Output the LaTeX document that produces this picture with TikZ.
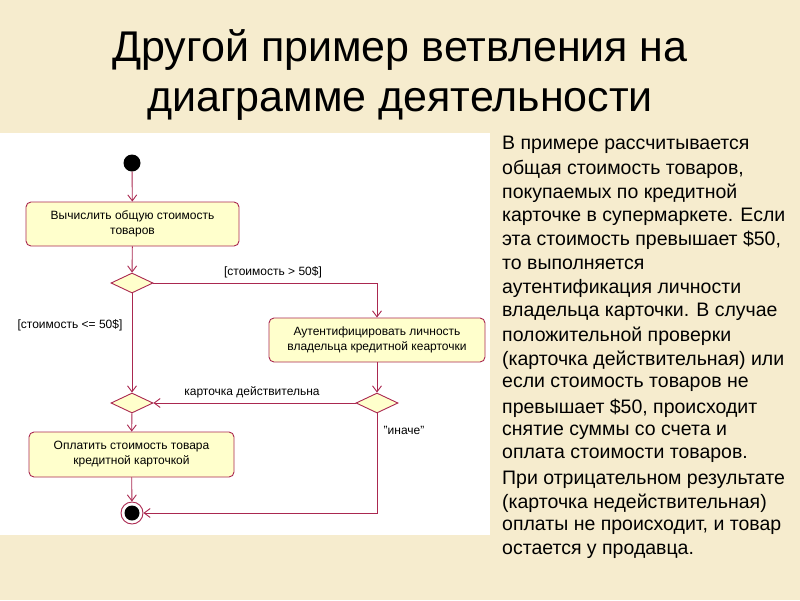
\documentclass[tikz,border=0pt]{standalone}
\usepackage{fontspec}
\setmainfont{Liberation Sans}
\usetikzlibrary{arrows.meta,shapes.geometric}
\definecolor{bg}{RGB}{246,236,206}
\definecolor{edge}{RGB}{170,40,80}
\definecolor{boxfill}{RGB}{255,255,204}
\tikzset{x=1pt,y=-1pt,
 act/.style={draw=edge,fill=boxfill,rounded corners=5pt,line width=0.9pt,align=center,font=\fontsize{12}{15}\selectfont,inner sep=0pt},
 dec/.style={draw=edge,fill=boxfill,diamond,minimum width=42pt,minimum height=20pt,inner sep=0pt,line width=0.9pt,aspect=2.1},
 flow/.style={draw=edge,line width=0.9pt,-{Straight Barb[length=6pt,width=9pt]}},
 guard/.style={font=\fontsize{12}{14}\selectfont},
 para/.style={anchor=west,font=\fontsize{19.5}{22}\selectfont,inner sep=0pt}}
\begin{document}
\begin{tikzpicture}
\useasboundingbox (0,0) rectangle (800,600);
\fill[bg] (0,0) rectangle (800,600);
\fill[white] (0,133) rectangle (490,535);
\node[font=\fontsize{43}{50}\selectfont,align=center] (title) at (400,75) {Другой пример ветвления на\\диаграмме деятельности};
\node[circle,fill=black,minimum size=17pt,inner sep=0pt] (start) at (132,163) {};
\node[act,minimum width=213pt,minimum height=44pt] (a1) at (132.5,224) {Вычислить общую стоимость\\товаров};
\node[dec] (d1) at (132,283) {};
\node[act,minimum width=216pt,minimum height=44pt] (a2) at (377,340) {Аутентифицировать личность\\владельца кредитной кеарточки};
\node[dec] (d2) at (132,403) {};
\node[dec] (d3) at (377,403) {};
\node[act,minimum width=205pt,minimum height=45pt] (a3) at (131.5,454.5) {Оплатить стоимость товара\\кредитной карточкой};
\node[circle,draw=edge,fill=white,line width=0.9pt,minimum size=22pt,inner sep=0pt] (end) at (132,513) {};
\node[circle,fill=black,minimum size=15pt,inner sep=0pt] at (end) {};
\coordinate (c1) at (377,283);
\coordinate (c2) at (377,513);
\draw[flow] (start) -- (a1);
\draw[flow] (a1) -- (d1);
\draw[flow] (d1.east) -- (c1) -- (a2.north);
\draw[flow] (d1) -- (d2);
\draw[flow] (a2) -- (d3);
\draw[flow] (d3.west) -- (d2.east);
\draw[flow] (d2) -- (a3);
\draw[flow] (a3) -- (end);
\draw[flow] (d3.south) -- (c2) -- (end.east);
\node[guard] (g1) at (273,272) {[стоимость > 50\$]};
\node[guard] (g2) at (70,325) {[стоимость <= 50\$]};
\node[guard] (g3) at (252,392) {карточка действительна};
\node[guard] (g4) at (404,430) {"иначе"};
\foreach \t [count=\i from 0] in {
В примере рассчитывается,
общая стоимость товаров{,},
покупаемых по кредитной,
карточке в супермаркете. Если,
эта стоимость превышает \$50{,},
то выполняется,
аутентификация личности,
владельца карточки. В случае,
положительной проверки,
(карточка действительная) или,
если стоимость товаров не,
превышает \$50{,} происходит,
снятие суммы со счета и,
оплата стоимости товаров.,
При отрицательном результате,
(карточка недействительная),
оплаты не происходит{,} и товар,
остается у продавца.}
{\node[para] (p\i) at (502,145+23.9*\i) {\t};}
\end{tikzpicture}
\end{document}
